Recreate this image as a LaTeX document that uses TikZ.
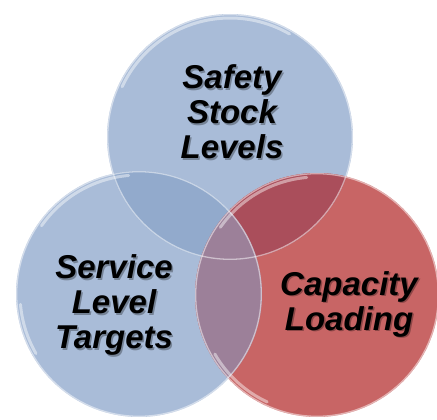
\documentclass[tikz,border=0pt]{standalone}
\usepackage{fontspec}
\setmainfont{Liberation Sans}

\definecolor{venblue}{RGB}{169,188,216}
\definecolor{venbluedark}{RGB}{146,170,204}
\definecolor{venred}{RGB}{200,101,101}
\definecolor{venreddark}{RGB}{170,78,91}
\definecolor{venpurple}{RGB}{156,128,153}

\tikzset{
  lbl/.style={align=center, inner sep=0pt,
    font=\fontsize{33}{35}\selectfont\bfseries\itshape},
  lblshadow/.style={lbl, text=black, text opacity=0.3},
  rim/.style={draw=white, draw opacity=0.5, line width=1.3pt},
  glare/.style={draw=white, draw opacity=0.45, line width=3pt, line cap=round}
}

\begin{document}
\begin{tikzpicture}[x=1pt,y=1pt,yscale=-1,xscale=1]
    \useasboundingbox (0,0) rectangle (437,420);

    % circle centres
    \coordinate (safetyc) at (230,137);
    \coordinate (servicec) at (139,294);
    \coordinate (capacityc) at (317,295);

    %Shape: Circle
    \fill [venblue] (safetyc) circle (123);
    \fill [venblue] (servicec) circle (123);
    \fill [venred] (capacityc) circle (122);

    % overlaps of the top circle
    \begin{scope}
        \clip (safetyc) circle (123);
        \fill [venbluedark] (servicec) circle (123);
        \fill [venreddark] (capacityc) circle (122);
    \end{scope}
    % left circle lies over the red one
    \begin{scope}
        \clip (servicec) circle (123);
        \fill [venpurple] (capacityc) circle (122);
    \end{scope}

    % glassy rims (y runs downwards, so angles turn clockwise)
    \draw [rim] (safetyc) circle (122.3);
    \draw [rim] (servicec) circle (122.3);
    \draw [rim] (capacityc) circle (121.3);
    \draw [glare] ([shift={(205:119)}]safetyc) arc (205:300:119);
    \draw [glare] ([shift={(215:119)}]servicec) arc (215:265:119);
    \draw [glare] ([shift={(175:119)}]servicec) arc (175:150:119);
    \draw [glare] ([shift={(215:118)}]capacityc) arc (215:265:118);
    \draw [glare] ([shift={(150:118)}]capacityc) arc (150:115:118);

    % Text Node
    \node [lblshadow] at (233.5,113.5) {Safety\\Stock\\Levels};
    \node [lbl] (safety) at (232,112) {Safety\\Stock\\Levels};
    % Text Node
    \node [lblshadow] at (115.5,306.5) {Service\\Level\\Targets};
    \node [lbl] (service) at (114,305) {Service\\Level\\Targets};
    % Text Node
    \node [lblshadow] at (350.5,305.5) {Capacity\\Loading};
    \node [lbl] (capacity) at (349,304) {Capacity\\Loading};
\end{tikzpicture}
\end{document}
